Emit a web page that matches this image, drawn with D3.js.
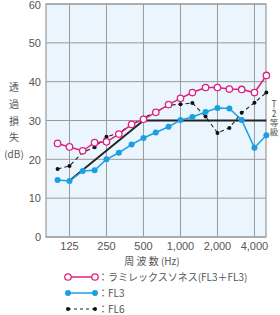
<!DOCTYPE html>
<html>
<head>
<meta charset="utf-8">
<script src="https://cdn.jsdelivr.net/npm/d3@7"></script>
<style>
  body { margin: 0; background: #fff; }
  text { font-family: "Noto Sans CJK JP", "Noto Sans", sans-serif; fill: #555; }
</style>
</head>
<body>
<div id="chart"></div>
<script>
var freqs = [100, 125, 160, 200, 250, 315, 400, 500, 630, 800, 1000, 1250, 1600, 2000, 2500, 3150, 4000, 5000]
var laminex = [24.1, 23.2, 22.2, 24.3, 24.5, 26.5, 29.0, 30.3, 32.1, 34.1, 35.7, 37.2, 38.5, 38.5, 38.1, 38.0, 37.2, 41.6]
var fl3 = [14.7, 14.4, 17.0, 17.2, 20.0, 21.7, 23.8, 25.5, 26.9, 28.4, 30.1, 30.9, 32.2, 33.2, 33.1, 30.1, 23.0, 26.2]
var fl6 = [17.5, 18.3, 21.8, 23.1, 25.8, 26.8, 29.0, 30.7, 32.2, 33.9, 34.2, 34.5, 31.0, 26.8, 28.1, 32.0, 34.6, 37.2]
var t2Freqs = [125, 500, 5000]
var t2Values = [14.5, 30, 30]
var xTicks = [125, 250, 500, 1000, 2000, 4000]
var yTicks = [0, 10, 20, 30, 40, 50, 60]
var legendLabels = ["：ラミレックスソネス(FL3＋FL3)", "：FL3", "：FL6"]

var width = 280, height = 315
var plotL = 46, plotR = 266, plotT = 4, plotB = 237

var svg = d3.select("#chart").append("svg")
    .attr("width", width)
    .attr("height", height)

var x = d3.scaleLog().domain([80.5, 4965]).range([plotL, plotR])
var y = d3.scaleLinear().domain([0, 60]).range([plotB, plotT])

// plot background
svg.append("rect")
    .attr("x", plotL).attr("y", plotT)
    .attr("width", plotR - plotL).attr("height", plotB - plotT)
    .attr("fill", "#eaf5fd")

// grid
svg.selectAll(".vgrid")
  .data(xTicks)
  .enter().append("line")
    .attr("x1", function(d){ return x(d) }).attr("x2", function(d){ return x(d) })
    .attr("y1", plotT).attr("y2", plotB)
    .attr("stroke", "#9a9a9a").attr("stroke-width", 1)

svg.selectAll(".hgrid")
  .data(yTicks)
  .enter().append("line")
    .attr("x1", plotL).attr("x2", plotR)
    .attr("y1", function(d){ return y(d) }).attr("y2", function(d){ return y(d) })
    .attr("stroke", "#9a9a9a").attr("stroke-width", 1)

svg.append("rect")
    .attr("x", plotL).attr("y", plotT)
    .attr("width", plotR - plotL).attr("height", plotB - plotT)
    .attr("fill", "none").attr("stroke", "#9a9a9a").attr("stroke-width", 1.2)

// tick labels
svg.selectAll(".ylab")
  .data(yTicks)
  .enter().append("text")
    .attr("x", 41)
    .attr("y", function(d){ return Math.max(y(d), 5) })
    .attr("dy", "0.38em")
    .attr("text-anchor", "end")
    .style("font-size", "11px")
    .style("font-family", "Liberation Sans, Arial, sans-serif")
    .text(function(d){ return d })

svg.selectAll(".xlab")
  .data(xTicks)
  .enter().append("text")
    .attr("x", function(d){ return x(d) })
    .attr("y", 250)
    .attr("text-anchor", "middle")
    .style("font-size", "11px")
    .style("font-family", "Liberation Sans, Arial, sans-serif")
    .text(function(d){ return d3.format(",")(d) })

// axis titles
var yTitle = ["透", "過", "損", "失", "(dB)"]
svg.selectAll(".ytitle")
  .data(yTitle)
  .enter().append("text")
    .attr("x", 14)
    .attr("y", function(d, i){ return 91 + i * 16.8 })
    .attr("text-anchor", "middle")
    .style("font-size", "10px")
    .text(function(d){ return d })

svg.append("text")
    .attr("x", 152).attr("y", 265)
    .attr("text-anchor", "middle")
    .style("font-size", "10px")
    .text("周 波 数 (Hz)")

// T-2 label, vertical
var t2Label = ["T", "|", "2", "等", "級"]
var t2Y = [104, 109.5, 114.5, 123.5, 132.5]
svg.selectAll(".t2lab")
  .data(t2Label)
  .enter().append("text")
    .attr("x", 274)
    .attr("y", function(d, i){ return t2Y[i] })
    .attr("dy", "0.35em")
    .attr("text-anchor", "middle")
    .style("font-size", function(d, i){ return i == 1 ? "5px" : "8.5px" })
    .text(function(d){ return d })

// T-2 reference line
var line = d3.line()
    .x(function(d){ return x(d[0]) })
    .y(function(d){ return y(d[1]) })

svg.append("path")
    .attr("d", line(d3.zip(t2Freqs, t2Values)))
    .attr("fill", "none").attr("stroke", "#222").attr("stroke-width", 1.8)

// series
var fl6Data = d3.zip(freqs, fl6)
svg.append("path")
    .attr("d", line(fl6Data))
    .attr("fill", "none").attr("stroke", "#222").attr("stroke-width", 1.1)
    .attr("stroke-dasharray", "4,3")
svg.selectAll(".fl6dot")
  .data(fl6Data)
  .enter().append("circle")
    .attr("cx", function(d){ return x(d[0]) })
    .attr("cy", function(d){ return y(d[1]) })
    .attr("r", 2)
    .attr("fill", "#111")

var fl3Data = d3.zip(freqs, fl3)
svg.append("path")
    .attr("d", line(fl3Data))
    .attr("fill", "none").attr("stroke", "#1a9fe3").attr("stroke-width", 1.5)
svg.selectAll(".fl3dot")
  .data(fl3Data)
  .enter().append("circle")
    .attr("cx", function(d){ return x(d[0]) })
    .attr("cy", function(d){ return y(d[1]) })
    .attr("r", 3)
    .attr("fill", "#1a9fe3")

var lamData = d3.zip(freqs, laminex)
svg.append("path")
    .attr("d", line(lamData))
    .attr("fill", "none").attr("stroke", "#e0217f").attr("stroke-width", 1.5)
svg.selectAll(".lamdot")
  .data(lamData)
  .enter().append("circle")
    .attr("cx", function(d){ return x(d[0]) })
    .attr("cy", function(d){ return y(d[1]) })
    .attr("r", 3.2)
    .attr("fill", "#fff")
    .attr("stroke", "#e0217f").attr("stroke-width", 1.3)

// legend
var legY = [277, 293, 309]
var lx1 = 68, lx2 = 95

svg.append("line")
    .attr("x1", lx1).attr("x2", lx2).attr("y1", legY[0]).attr("y2", legY[0])
    .attr("stroke", "#e0217f").attr("stroke-width", 1.5)
svg.selectAll(".leg0")
  .data([lx1, lx2])
  .enter().append("circle")
    .attr("cx", function(d){ return d }).attr("cy", legY[0]).attr("r", 3.2)
    .attr("fill", "#fff").attr("stroke", "#e0217f").attr("stroke-width", 1.3)

svg.append("line")
    .attr("x1", lx1).attr("x2", lx2).attr("y1", legY[1]).attr("y2", legY[1])
    .attr("stroke", "#1a9fe3").attr("stroke-width", 1.5)
svg.selectAll(".leg1")
  .data([lx1, lx2])
  .enter().append("circle")
    .attr("cx", function(d){ return d }).attr("cy", legY[1]).attr("r", 3)
    .attr("fill", "#1a9fe3")

svg.append("line")
    .attr("x1", lx1).attr("x2", lx2).attr("y1", legY[2]).attr("y2", legY[2])
    .attr("stroke", "#222").attr("stroke-width", 1.1).attr("stroke-dasharray", "3,3")
svg.selectAll(".leg2")
  .data([lx1, lx2])
  .enter().append("circle")
    .attr("cx", function(d){ return d }).attr("cy", legY[2]).attr("r", 2)
    .attr("fill", "#111")

svg.selectAll(".legtext")
  .data(legendLabels)
  .enter().append("text")
    .attr("x", 98)
    .attr("y", function(d, i){ return legY[i] })
    .attr("dy", "0.35em")
    .style("font-size", "10px")
    .text(function(d){ return d })
</script>
</body>
</html>
